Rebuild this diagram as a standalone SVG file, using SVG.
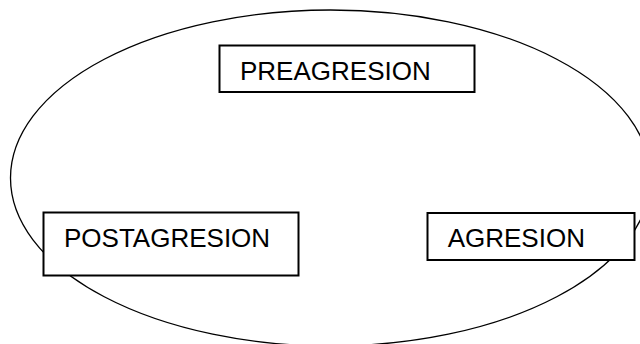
<svg xmlns="http://www.w3.org/2000/svg" width="640" height="344" viewBox="0 0 640 344">
<style>
.box{fill:#fff;stroke:#000;stroke-width:2}
.lbl{font-family:"Liberation Sans",Arial,sans-serif;font-size:26px;fill:#000}
</style>
<rect width="640" height="344" fill="#fff"/>
<g id="connectors">
<ellipse cx="330.5" cy="178" rx="320" ry="168" fill="none" stroke="#000" stroke-width="1.3"/>
</g>
<g id="preagresion">
<rect class="box" x="219.5" y="45.5" width="255" height="46.5"/>
<text class="lbl" x="240" y="80">PREAGRESION</text>
</g>
<g id="postagresion">
<rect class="box" x="43.5" y="212.5" width="255" height="63"/>
<text class="lbl" x="64" y="246.7">POSTAGRESION</text>
</g>
<g id="agresion">
<rect class="box" x="427.5" y="213" width="207" height="47"/>
<text class="lbl" x="447.7" y="246.7">AGRESION</text>
</g>
</svg>
